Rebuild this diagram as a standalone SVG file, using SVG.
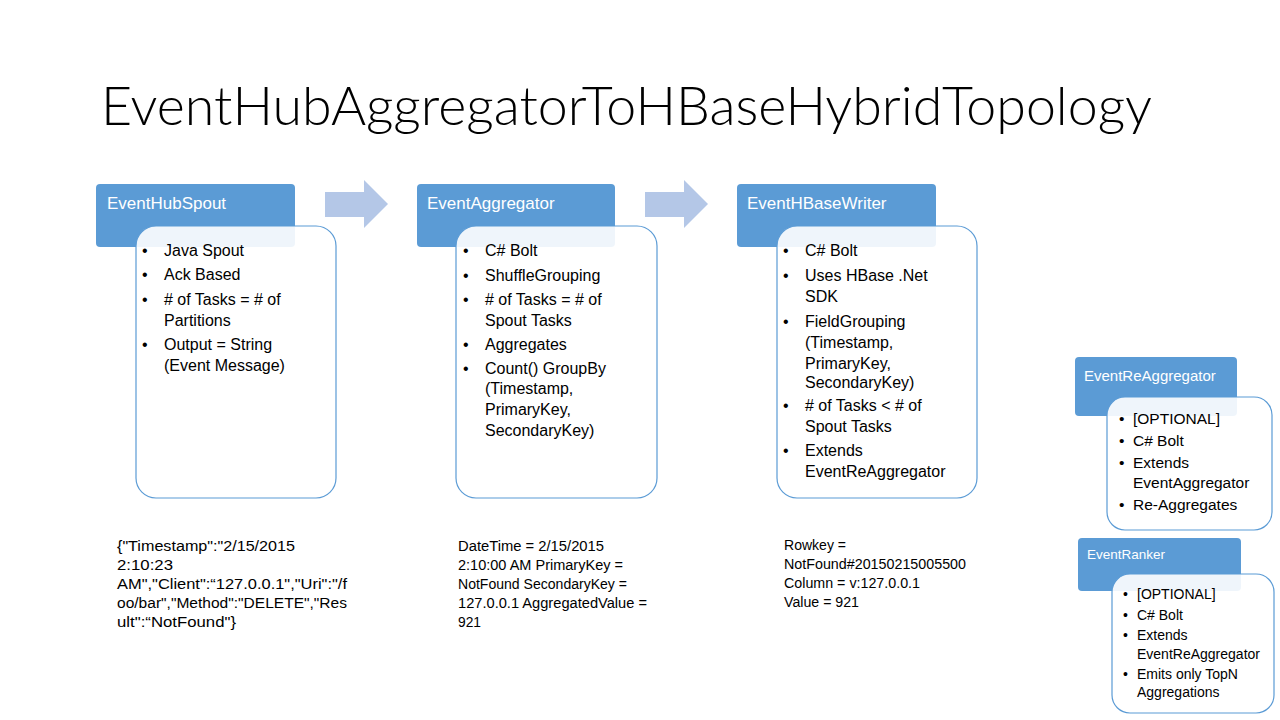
<svg xmlns="http://www.w3.org/2000/svg" width="1280" height="720" viewBox="0 0 1280 720">
<style>
.hdr{fill:#5b9bd5;}
.body{fill:#ffffff;fill-opacity:0.9;stroke:#5b9bd5;stroke-width:1.2;}
.ht{font-family:"Liberation Sans",Arial,sans-serif;fill:#ffffff;font-size:17px;}
.bt{font-family:"Liberation Sans",Arial,sans-serif;fill:#000000;font-size:16px;}
.bt15{font-family:"Liberation Sans",Arial,sans-serif;fill:#000000;font-size:15.5px;}
.bt13{font-family:"Liberation Sans",Arial,sans-serif;fill:#000000;font-size:14px;}
.note{font-family:"Liberation Sans",Arial,sans-serif;fill:#000000;font-size:14px;}
.arrow{fill:#b4c7e7;}
.title{font-family:Lato,"Open Sans","Liberation Sans",sans-serif;font-weight:300;font-size:53px;fill:#000000;}
</style>
<rect width="1280" height="720" fill="#ffffff"/>
<text class="title" x="101" y="125" textLength="1051" lengthAdjust="spacingAndGlyphs">EventHubAggregatorToHBaseHybridTopology</text>

<g id="connectors">
<polygon class="arrow" points="325,192 364,192 364,180 388,204 364,228 364,217 325,217"/>
<polygon class="arrow" points="645,192 684,192 684,180 708,204 684,228 684,217 645,217"/>
</g>

<g id="EventHubSpout">
<rect class="hdr" x="96" y="184" width="199" height="63" rx="4"/>
<rect class="body" x="136" y="226" width="200" height="272" rx="20"/>
<text class="ht" x="107" y="209">EventHubSpout</text>
<g class="bt">
<text x="142" y="256">•</text><text x="164" y="256">Java Spout</text>
<text x="142" y="280">•</text><text x="164" y="280">Ack Based</text>
<text x="142" y="305">•</text><text x="164" y="305"># of Tasks = # of</text>
<text x="164" y="326">Partitions</text>
<text x="142" y="350">•</text><text x="164" y="350">Output = String</text>
<text x="164" y="371">(Event Message)</text>
</g>
</g>

<g id="EventAggregator">
<rect class="hdr" x="417" y="184" width="198" height="63" rx="4"/>
<rect class="body" x="456" y="226" width="201" height="272" rx="20"/>
<text class="ht" x="427" y="209">EventAggregator</text>
<g class="bt">
<text x="463" y="256">•</text><text x="485" y="256">C# Bolt</text>
<text x="463" y="281">•</text><text x="485" y="281">ShuffleGrouping</text>
<text x="463" y="305">•</text><text x="485" y="305"># of Tasks = # of</text>
<text x="485" y="326">Spout Tasks</text>
<text x="463" y="350">•</text><text x="485" y="350">Aggregates</text>
<text x="463" y="374">•</text><text x="485" y="374">Count() GroupBy</text>
<text x="485" y="394">(Timestamp,</text>
<text x="485" y="415">PrimaryKey,</text>
<text x="485" y="436">SecondaryKey)</text>
</g>
</g>

<g id="EventHBaseWriter">
<rect class="hdr" x="737" y="184" width="199" height="63" rx="4"/>
<rect class="body" x="777" y="226" width="200" height="272" rx="20"/>
<text class="ht" x="747" y="209">EventHBaseWriter</text>
<g class="bt">
<text x="783" y="256">•</text><text x="805" y="256">C# Bolt</text>
<text x="783" y="281">•</text><text x="805" y="281">Uses HBase .Net</text>
<text x="805" y="302">SDK</text>
<text x="783" y="327">•</text><text x="805" y="327">FieldGrouping</text>
<text x="805" y="348">(Timestamp,</text>
<text x="805" y="369">PrimaryKey,</text>
<text x="805" y="388">SecondaryKey)</text>
<text x="783" y="411">•</text><text x="805" y="411"># of Tasks &lt; # of</text>
<text x="805" y="432">Spout Tasks</text>
<text x="783" y="456">•</text><text x="805" y="456">Extends</text>
<text x="805" y="477">EventReAggregator</text>
</g>
</g>

<g id="EventReAggregator">
<rect class="hdr" x="1075" y="357" width="162" height="59" rx="4"/>
<rect class="body" x="1107" y="397" width="165" height="133" rx="18"/>
<text class="ht" x="1084" y="381" style="font-size:15px">EventReAggregator</text>
<g class="bt15">
<text x="1119" y="424">•</text><text x="1133" y="424">[OPTIONAL]</text>
<text x="1119" y="446">•</text><text x="1133" y="446">C# Bolt</text>
<text x="1119" y="468">•</text><text x="1133" y="468">Extends</text>
<text x="1133" y="488">EventAggregator</text>
<text x="1119" y="510">•</text><text x="1133" y="510">Re-Aggregates</text>
</g>
</g>

<g id="EventRanker">
<rect class="hdr" x="1078" y="538" width="163" height="53" rx="4"/>
<rect class="body" x="1112" y="574" width="162" height="139" rx="18"/>
<text class="ht" x="1087" y="559" style="font-size:13.5px">EventRanker</text>
<g class="bt13">
<text x="1123" y="599">•</text><text x="1137" y="599">[OPTIONAL]</text>
<text x="1123" y="620">•</text><text x="1137" y="620">C# Bolt</text>
<text x="1123" y="640">•</text><text x="1137" y="640">Extends</text>
<text x="1137" y="659">EventReAggregator</text>
<text x="1123" y="679">•</text><text x="1137" y="679">Emits only TopN</text>
<text x="1137" y="697">Aggregations</text>
</g>
</g>

<g id="annotations" class="note">
<text x="117" y="551" textLength="178" lengthAdjust="spacingAndGlyphs">{"Timestamp":"2/15/2015</text>
<text x="117" y="570" textLength="56" lengthAdjust="spacingAndGlyphs">2:10:23</text>
<text x="117" y="589" textLength="230" lengthAdjust="spacingAndGlyphs">AM","Client":“127.0.0.1","Uri":"/f</text>
<text x="117" y="608" textLength="230" lengthAdjust="spacingAndGlyphs">oo/bar","Method":"DELETE","Res</text>
<text x="117" y="627" textLength="119" lengthAdjust="spacingAndGlyphs">ult":“NotFound"}</text>

<text x="458" y="551" textLength="146" lengthAdjust="spacingAndGlyphs">DateTime = 2/15/2015</text>
<text x="458" y="570" textLength="165" lengthAdjust="spacingAndGlyphs">2:10:00 AM PrimaryKey =</text>
<text x="458" y="589" textLength="169" lengthAdjust="spacingAndGlyphs">NotFound SecondaryKey =</text>
<text x="458" y="608" textLength="189" lengthAdjust="spacingAndGlyphs">127.0.0.1 AggregatedValue =</text>
<text x="458" y="627" textLength="23" lengthAdjust="spacingAndGlyphs">921</text>

<text x="784" y="550" textLength="62" lengthAdjust="spacingAndGlyphs">Rowkey =</text>
<text x="784" y="569" textLength="182" lengthAdjust="spacingAndGlyphs">NotFound#20150215005500</text>
<text x="784" y="588" textLength="136" lengthAdjust="spacingAndGlyphs">Column = v:127.0.0.1</text>
<text x="784" y="607" textLength="75" lengthAdjust="spacingAndGlyphs">Value = 921</text>
</g>
</svg>
